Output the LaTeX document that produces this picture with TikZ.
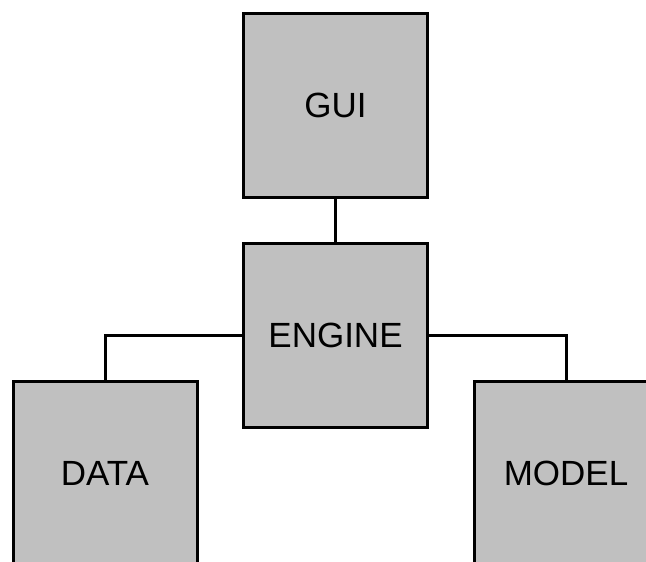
\documentclass[tikz,border=0pt]{standalone}
\usepackage{fontspec}
\setmainfont{Liberation Sans}
\definecolor{boxgray}{HTML}{C0C0C0}
\begin{document}
\begin{tikzpicture}[x=1pt,y=-1pt,
  block/.style={draw=black, fill=boxgray, line width=3pt, minimum width=184pt,
    minimum height=184pt, inner sep=0pt, font=\fontsize{35}{40}\selectfont},
  wire/.style={draw=black, line width=3pt}]
  \useasboundingbox (0,0) rectangle (646,562);
  \clip (0,0) rectangle (646,562);
  \node[block] (gui) at (335.5,105) {GUI};
  \node[block] (engine) at (335.5,335.5) {ENGINE};
  \node[block] (data) at (105,473) {DATA};
  \node[block] (model) at (566,473) {MODEL};
  \draw[wire] (gui.south) -- (engine.north);
  \draw[wire] (engine.west) -| (data.north);
  \draw[wire] (engine.east) -| (model.north);
\end{tikzpicture}
\end{document}
